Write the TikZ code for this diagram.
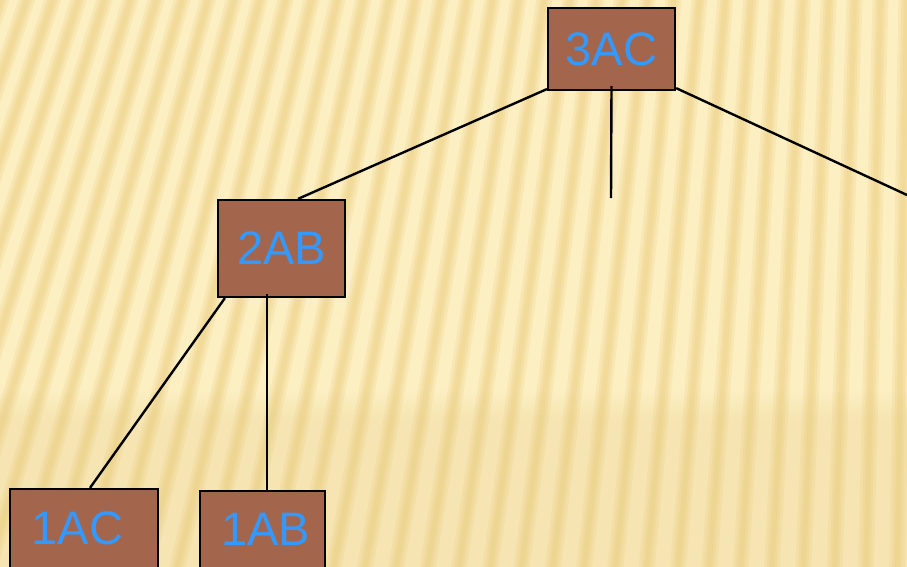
\documentclass[tikz,border=0pt]{standalone}
\usepackage{fontspec}
\setmainfont{Liberation Sans}
\usetikzlibrary{fadings}
\definecolor{paper}{HTML}{FCEFC2}
\definecolor{ridge}{HTML}{EDD28A}
\definecolor{band}{HTML}{E3C57A}
\definecolor{boxfill}{HTML}{A4654D}
\definecolor{boxtext}{HTML}{3399FF}
\begin{document}
\begin{tikzpicture}[x=1pt,y=-1pt,
  box/.style={draw=black, line width=2.2pt, fill=boxfill, text=boxtext,
    font=\fontsize{47}{50}\selectfont, inner sep=0pt},
  link/.style={draw=black, line width=2.4pt}]
\useasboundingbox (0,0) rectangle (907,567);

% striped paper background
\begin{scope}
  \clip (0,0) rectangle (907,567);
  \fill[paper] (0,0) rectangle (907,567);
  \foreach \i in {-9,...,31} {
    \draw[ridge, line width=16pt, opacity=0.25] (950,-2700) -- (32*\i,640);
    \draw[ridge, line width=10pt, opacity=0.35] (950,-2700) -- (32*\i,640);
    \draw[ridge, line width=5pt, opacity=0.35] (950,-2700) -- (32*\i,640);
  }
  % warmer lower band
  \fill[band, opacity=0.22, path fading=north] (0,390) rectangle (907,418);
  \fill[band, opacity=0.22] (0,418) rectangle (907,567);
\end{scope}

% boxes
\node[box, minimum width=127, minimum height=82] (n3ac) at (611.5,49) {3AC};
\node[box, minimum width=127, minimum height=97] (n2ab) at (281.5,248.5) {2AB};
\node[box, minimum width=148, minimum height=79] (n1ac) at (84,528.5) {1AC\hspace*{13pt}};
\node[box, minimum width=125, minimum height=77] (n1ab) at (262.5,529.5) {\hspace*{6pt}1AB};

% connectors
\coordinate (stub) at (611,198);
\coordinate (offright) at (907,195);
\draw[link] ([yshift=2pt]n3ac.south west) -- ([xshift=16.5pt]n2ab.north);
\draw[link] ([yshift=5pt]n3ac.south) -- (stub);
\draw[link] ([yshift=3pt]n3ac.south east) -- (offright);
\draw[link] ([xshift=8pt]n2ab.south west) -- ([xshift=6pt]n1ac.north);
\draw[link] ([xshift=-14.5pt,yshift=4pt]n2ab.south) -- ([xshift=4.5pt]n1ab.north);
\end{tikzpicture}
\end{document}
